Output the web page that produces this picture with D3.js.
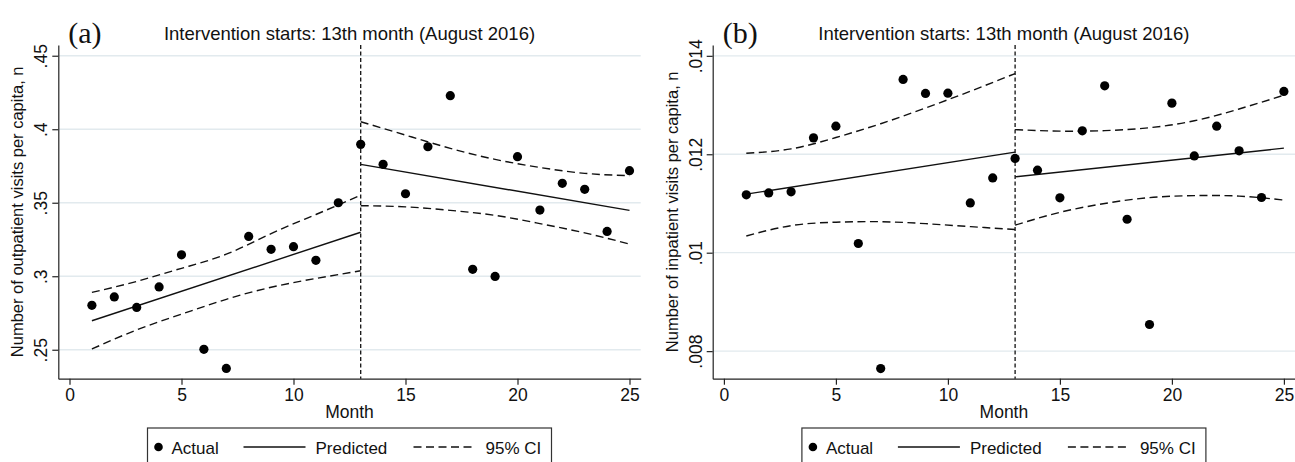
<!DOCTYPE html>
<html>
<head>
<meta charset="utf-8">
<script src="https://cdn.jsdelivr.net/npm/d3@7"></script>
<style>
  body { margin: 0; background: #fff; }
  text { font-family: "Liberation Sans", Arial, sans-serif; fill: #111; }
</style>
</head>
<body>
<script>
// data
let months = [1, 2, 3, 4, 5, 6, 7, 8, 9, 10, 11, 12, 13, 14, 15, 16, 17, 18, 19, 20, 21, 22, 23, 24, 25]
let xTicks = [0, 5, 10, 15, 20, 25]

let outActual = [.2802, .2859, .2788, .2927, .3146, .2503, .2373, .3271, .3183, .3201, .3108, .3500, .3897,
    .3761, .3561, .3881, .4228, .3047, .2999, .3813, .3450, .3632, .3591, .3305, .3718]
let inActual = [.011175, .011215, .011236, .012333, .012571, .010187, .007646, .01352, .013236, .013242, .011012,
    .01152, .011915, .011677, .011114, .012476, .01339, .01068, .008541, .013039, .011967, .012571, .012069, .011122, .013276]

let predMonthsPre = [1, 13]
let predMonthsPost = [13, 25]
let outPredPre = [.2697, .3299]
let outPredPost = [.3761, .3448]
let inPredPre = [.011189, .012043]
let inPredPost = [.011541, .012124]

let ciMonthsPre = [1, 3, 5, 7, 9, 11, 13]
let ciMonthsPost = [13, 15, 17, 19, 21, 23, 25]
let outUpperPre = [.289, .2965, .3054, .315, .329, .342, .3552]
let outLowerPre = [.2505, .2635, .2742, .2843, .2925, .2985, .3037]
let outUpperPost = [.4051, .396, .387, .3795, .374, .370, .3684]
let outLowerPost = [.348, .3472, .3448, .3414, .3358, .3295, .3219]
let inUpperPre = [.01202, .01211, .01234, .01262, .01294, .01328, .01364]
let inLowerPre = [.01034, .01055, .01062, .01063, .01059, .01053, .01047]
let inUpperPost = [.0125, .01247, .01248, .01254, .01268, .01292, .0132]
let inLowerPost = [.01056, .01082, .011, .01112, .01116, .01115, .01107]

let outTicks = [.25, .3, .35, .4, .45]
let inTicks = [.008, .01, .012, .014]

let interventionMonth = 13
let legendLabels = ["Actual", "Predicted", "95% CI"]

// setup canvas
let width = 1295
let height = 462
let plotTop = 45, plotBottom = 378.7

let svg = d3.select("body").append("svg")
    .attr("width", width)
    .attr("height", height)

drawPanel({
    tag: "(a)",
    left: 58.3, right: 640.7,
    yDomain: [.2303, .4573],
    yTicks: outTicks,
    yTitle: "Number of outpatient visits per capita, n",
    actual: outActual,
    predPre: outPredPre, predPost: outPredPost,
    upperPre: outUpperPre, lowerPre: outLowerPre,
    upperPost: outUpperPost, lowerPost: outLowerPost
})

drawPanel({
    tag: "(b)",
    left: 712.7, right: 1295.1,
    yDomain: [.00744, .01422],
    yTicks: inTicks,
    yTitle: "Number of inpatient visits per capita, n",
    actual: inActual,
    predPre: inPredPre, predPost: inPredPost,
    upperPre: inUpperPre, lowerPre: inLowerPre,
    upperPost: inUpperPost, lowerPost: inLowerPost
})

function drawPanel(p) {
    let g = svg.append("g")

    let x = d3.scaleLinear().domain([-0.5, 25.5]).range([p.left, p.right])
    let y = d3.scaleLinear().domain(p.yDomain).range([plotBottom, plotTop])
    let mid = (p.left + p.right) / 2

    // grid
    g.append("g").selectAll("line")
        .data(p.yTicks)
        .enter()
        .append("line")
            .attr("x1", p.left).attr("x2", p.right)
            .attr("y1", d => y(d)).attr("y2", d => y(d))
            .attr("stroke", "#e2eaee")
            .attr("stroke-width", 1.3)

    // axes
    let fmt = d => d3.format("")(d).replace(/^0\./, ".")
    let yAxis = g.append("g")
        .attr("transform", `translate(${p.left},0)`)
        .call(d3.axisLeft(y).tickValues(p.yTicks).tickFormat(fmt).tickSize(6).tickSizeOuter(0))
    yAxis.selectAll("text")
        .attr("x", null).attr("dy", null)
        .attr("text-anchor", "middle")
        .attr("transform", "translate(-11,0) rotate(-90)")
        .style("font-size", "17.5px")

    let xAxis = g.append("g")
        .attr("transform", `translate(0,${plotBottom})`)
        .call(d3.axisBottom(x).tickValues(xTicks).tickSize(6).tickSizeOuter(0))
    xAxis.selectAll("text")
        .attr("y", 22).attr("dy", null)
        .style("font-size", "17.5px")

    g.selectAll(".domain, .tick line").attr("stroke", "#222").attr("stroke-width", 1.2)
    g.selectAll(".tick text").attr("font-family", null)

    // titles
    g.append("text")
        .attr("x", mid).attr("y", 418)
        .attr("text-anchor", "middle")
        .style("font-size", "17.5px")
        .text("Month")

    g.append("text")
        .attr("transform", `translate(${p.left - 35},${(plotTop + plotBottom) / 2}) rotate(-90)`)
        .attr("text-anchor", "middle")
        .style("font-size", "16.5px")
        .text(p.yTitle)

    g.append("text")
        .attr("x", mid).attr("y", 40)
        .attr("text-anchor", "middle")
        .style("font-size", "18.5px")
        .text("Intervention starts: 13th month (August 2016)")

    g.append("text")
        .attr("x", p.left + 10).attr("y", 43)
        .style("font-family", "'Liberation Serif', 'DejaVu Serif', serif")
        .style("font-size", "30px")
        .text(p.tag)

    // intervention line
    g.append("line")
        .attr("x1", x(interventionMonth)).attr("x2", x(interventionMonth))
        .attr("y1", plotTop).attr("y2", plotBottom)
        .attr("stroke", "#111")
        .attr("stroke-width", 1.3)
        .attr("stroke-dasharray", "4,2.5")

    // predicted and CI lines
    let line = d3.line().x(d => x(d[0])).y(d => y(d[1]))
    let curve = d3.line().x(d => x(d[0])).y(d => y(d[1])).curve(d3.curveNatural)
    let zip = (a, b) => a.map((m, i) => [m, b[i]])

    ;[[predMonthsPre, p.predPre], [predMonthsPost, p.predPost]].forEach(s => {
        g.append("path")
            .attr("d", line(zip(s[0], s[1])))
            .attr("fill", "none")
            .attr("stroke", "#111")
            .attr("stroke-width", 1.4)
    })

    ;[[ciMonthsPre, p.upperPre], [ciMonthsPre, p.lowerPre], [ciMonthsPost, p.upperPost], [ciMonthsPost, p.lowerPost]].forEach(s => {
        g.append("path")
            .attr("d", curve(zip(s[0], s[1])))
            .attr("fill", "none")
            .attr("stroke", "#111")
            .attr("stroke-width", 1.4)
            .attr("stroke-dasharray", "8,4.5")
    })

    // actual points
    g.append("g").selectAll("circle")
        .data(zip(months, p.actual))
        .enter()
        .append("circle")
            .attr("cx", d => x(d[0]))
            .attr("cy", d => y(d[1]))
            .attr("r", 4.6)
            .attr("fill", "#000")

    // legend
    let lx = mid - 202
    let ly = 447
    g.append("rect")
        .attr("x", lx).attr("y", 428)
        .attr("width", 404).attr("height", 50)
        .attr("fill", "none")
        .attr("stroke", "#333")
        .attr("stroke-width", 1.2)

    g.append("circle").attr("cx", lx + 11).attr("cy", ly).attr("r", 4.3).attr("fill", "#000")
    g.append("line")
        .attr("x1", lx + 96).attr("x2", lx + 158).attr("y1", ly).attr("y2", ly)
        .attr("stroke", "#111").attr("stroke-width", 1.4)
    g.append("line")
        .attr("x1", lx + 266).attr("x2", lx + 328).attr("y1", ly).attr("y2", ly)
        .attr("stroke", "#111").attr("stroke-width", 1.4)
        .attr("stroke-dasharray", "8,4.5")

    let textX = [lx + 24, lx + 168, lx + 338]
    g.append("g").selectAll("text")
        .data(legendLabels)
        .enter()
        .append("text")
            .attr("x", (d, i) => textX[i])
            .attr("y", ly + 6.5)
            .style("font-size", "17px")
            .text(d => d)
}
</script>
</body>
</html>
